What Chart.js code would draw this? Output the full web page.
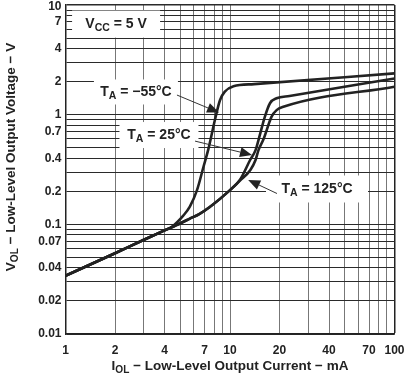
<!DOCTYPE html>
<html>
<head>
<meta charset="utf-8">
<script src="https://cdn.jsdelivr.net/npm/chart.js@4/dist/chart.umd.min.js"></script>
<style>
  html, body { margin: 0; padding: 0; background: #fff; }
  canvas { display: block; }
</style>
</head>
<body>
<canvas id="volChart" width="406" height="378"></canvas>
<script>
// curve data (I in mA, V in volts)
const iM55 = [1, 2, 3, 4, 4.4, 5.2, 5.7, 6.3, 6.9, 7.4, 8.1, 8.7, 9.3, 10.5, 14, 100];
const vM55 = [0.034, 0.0545, 0.0724, 0.088, 0.094, 0.12, 0.145, 0.205, 0.335, 0.49, 0.9, 1.36, 1.62, 1.82, 1.9, 2.38];

const i25 = [1, 2, 3, 4, 5, 5.7, 6.5, 7.5, 10, 11.5, 13.3, 14.3, 14.9, 16.3, 17.5, 19.2, 23, 100];
const v25 = [0.034, 0.0545, 0.0724, 0.088, 0.1024, 0.1127, 0.124, 0.143, 0.205, 0.255, 0.39, 0.475, 0.587, 0.96, 1.27, 1.41, 1.48, 2.14];

const i125 = [1, 2, 3, 4, 5, 5.7, 6.5, 7.5, 10, 11.5, 13.3, 14.3, 14.9, 16, 17.9, 19.2, 21.1, 100];
const v125 = [0.034, 0.0545, 0.0724, 0.088, 0.1024, 0.1127, 0.124, 0.143, 0.205, 0.25, 0.313, 0.386, 0.475, 0.6, 0.96, 1.10, 1.18, 1.80];

// grid lines and labelled ticks
const xGrid = [1, 2, 3, 4, 5, 6, 7, 8, 9, 10, 20, 30, 40, 50, 60, 70, 80, 90, 100];
const xLabels = [1, 2, 4, 7, 10, 20, 40, 70, 100];
const yGrid = [0.01, 0.02, 0.03, 0.04, 0.05, 0.06, 0.07, 0.08, 0.09,
               0.1, 0.2, 0.3, 0.4, 0.5, 0.6, 0.7, 0.8, 0.9,
               1, 2, 3, 4, 5, 6, 7, 8, 9, 10];
const yLabels = [0.01, 0.02, 0.04, 0.07, 0.1, 0.2, 0.4, 0.7, 1, 2, 4, 7, 10];

// annotation text anchors (data units) and arrows [fromX, fromY, toX, toY]
const labelVcc = { x: 2.03, y: 6.7 };
const labelM55 = { x: 2.68, y: 1.61, temp: '\u221255' };
const label25 = { x: 3.70, y: 0.652, temp: '25' };
const label125 = { x: 33.8, y: 0.21, temp: '125' };
const arrows = [
  [4.76, 1.51, 8.58, 1.045],
  [6.13, 0.574, 13.6, 0.429],
  [19.3, 0.191, 12.9, 0.254]
];

const FONT = '"Liberation Sans", Arial, Helvetica, sans-serif';
const INK = '#222';

function pts(xs, ys) {
  return xs.map((x, k) => ({ x: x, y: ys[k] }));
}

// draw text pieces centred on (cx, cy), some of them as subscripts
function richText(ctx, parts, cx, cy, size) {
  ctx.save();
  ctx.textBaseline = 'middle';
  ctx.textAlign = 'left';
  let w = 0;
  parts.forEach(p => {
    ctx.font = 'bold ' + (p.sub ? size * 0.75 : size) + 'px ' + FONT;
    p.w = ctx.measureText(p.t).width;
    w += p.w;
  });
  let x = cx - w / 2;
  parts.forEach(p => {
    ctx.font = 'bold ' + (p.sub ? size * 0.75 : size) + 'px ' + FONT;
    ctx.fillText(p.t, x, p.sub ? cy + size * 0.3 : cy);
    x += p.w;
  });
  ctx.restore();
}

function tempParts(t) {
  return [{ t: 'T' }, { t: 'A', sub: true }, { t: ' = ' + t + '\u00b0C' }];
}

const boxes = [
  // [x, y (data units, centre), width px, height px]
  [labelVcc.x, labelVcc.y, 88, 27],
  [labelM55.x, labelM55.y, 84, 25],
  [label25.x, label25.y, 79, 26],
  [label125.x, label125.y, 102, 27]
];

const annotate = {
  id: 'annotate',
  beforeDraw(chart) {
    // keep the top y label ("10") inside the canvas
    chart.scales.y.getLabelItems().forEach(it => {
      if (it.options.translation[1] < 7) it.options.translation[1] = 7;
    });
  },
  beforeDatasetsDraw(chart) {
    const ctx = chart.ctx, xs = chart.scales.x, ys = chart.scales.y;
    ctx.save();
    ctx.fillStyle = '#fff';
    boxes.forEach(b => {
      const px = xs.getPixelForValue(b[0]), py = ys.getPixelForValue(b[1]);
      ctx.fillRect(px - b[2] / 2, py - b[3] / 2, b[2], b[3]);
    });
    ctx.restore();
  },
  afterDatasetsDraw(chart) {
    const ctx = chart.ctx, xs = chart.scales.x, ys = chart.scales.y;
    ctx.fillStyle = INK;
    richText(ctx, [{ t: 'V' }, { t: 'CC', sub: true }, { t: ' = 5 V' }],
      xs.getPixelForValue(labelVcc.x), ys.getPixelForValue(labelVcc.y), 14);
    [labelM55, label25, label125].forEach(l => {
      ctx.fillStyle = INK;
      richText(ctx, tempParts(l.temp), xs.getPixelForValue(l.x), ys.getPixelForValue(l.y), 14);
    });

    ctx.save();
    ctx.strokeStyle = '#333';
    ctx.fillStyle = '#222';
    ctx.lineWidth = 1;
    arrows.forEach(a => {
      const x0 = xs.getPixelForValue(a[0]), y0 = ys.getPixelForValue(a[1]);
      const x1 = xs.getPixelForValue(a[2]), y1 = ys.getPixelForValue(a[3]);
      const ang = Math.atan2(y1 - y0, x1 - x0);
      const len = 12, half = 5;
      const bx = x1 - len * Math.cos(ang), by = y1 - len * Math.sin(ang);
      ctx.beginPath();
      ctx.moveTo(x0, y0);
      ctx.lineTo(bx, by);
      ctx.stroke();
      ctx.beginPath();
      ctx.moveTo(x1, y1);
      ctx.lineTo(bx + half * Math.sin(ang), by - half * Math.cos(ang));
      ctx.lineTo(bx - half * Math.sin(ang), by + half * Math.cos(ang));
      ctx.closePath();
      ctx.fill();
    });
    ctx.restore();

    // axis titles
    const area = chart.chartArea;
    ctx.fillStyle = INK;
    richText(ctx, [{ t: 'I' }, { t: 'OL', sub: true }, { t: ' \u2212 Low-Level Output Current \u2212 mA' }],
      (area.left + area.right) / 2, 366, 13.5);
    ctx.save();
    ctx.translate(11, 157);
    ctx.rotate(-Math.PI / 2);
    richText(ctx, [{ t: 'V' }, { t: 'OL', sub: true }, { t: ' \u2212 Low-Level Output Voltage \u2212 V' }], 0, 0, 13.5);
    ctx.restore();
  }
};

function curve(data) {
  return {
    data: data,
    borderColor: INK,
    borderWidth: 2.6,
    pointRadius: 0,
    fill: false,
    cubicInterpolationMode: 'monotone'
  };
}

new Chart(document.getElementById('volChart'), {
  type: 'line',
  data: {
    datasets: [
      curve(pts(iM55, vM55)),
      curve(pts(i25, v25)),
      curve(pts(i125, v125))
    ]
  },
  options: {
    responsive: false,
    animation: false,
    events: [],
    layout: { padding: { top: 5, right: 11.5, left: 0, bottom: 0 } },
    plugins: { legend: { display: false }, tooltip: { enabled: false } },
    scales: {
      x: {
        type: 'logarithmic',
        min: 1, max: 100,
        afterFit: s => { s.height = 44; s.paddingLeft = 0; s.paddingRight = 0; },
        afterBuildTicks: s => { s.ticks = xGrid.map(v => ({ value: v })); },
        grid: {
          color: c => (c.tick && (c.tick.value === 1 || c.tick.value === 100)) ? INK : '#777',
          lineWidth: c => (c.tick && c.tick.value === 100) ? 1.5 : 1,
          drawTicks: false
        },
        border: { color: INK, width: 1.5 },
        ticks: {
          autoSkip: false, maxRotation: 0, padding: 9,
          color: INK,
          font: { family: FONT, size: 12, weight: 'bold' },
          callback: v => xLabels.includes(v) ? String(v) : ''
        }
      },
      y: {
        type: 'logarithmic',
        min: 0.01, max: 10,
        afterFit: s => { s.width = 65.5; s.paddingTop = 0; s.paddingBottom = 0; },
        afterBuildTicks: s => { s.ticks = yGrid.map(v => ({ value: v })); },
        grid: {
          color: '#2a2a2a',
          lineWidth: c => (c.tick && c.tick.value === 10) ? 1.5 : 1,
          drawTicks: false
        },
        border: { color: INK, width: 1.5 },
        ticks: {
          autoSkip: false, padding: 4,
          color: INK,
          font: { family: FONT, size: 12, weight: 'bold' },
          callback: v => yLabels.includes(v) ? String(v) : ''
        }
      }
    }
  },
  plugins: [annotate]
});
</script>
</body>
</html>
